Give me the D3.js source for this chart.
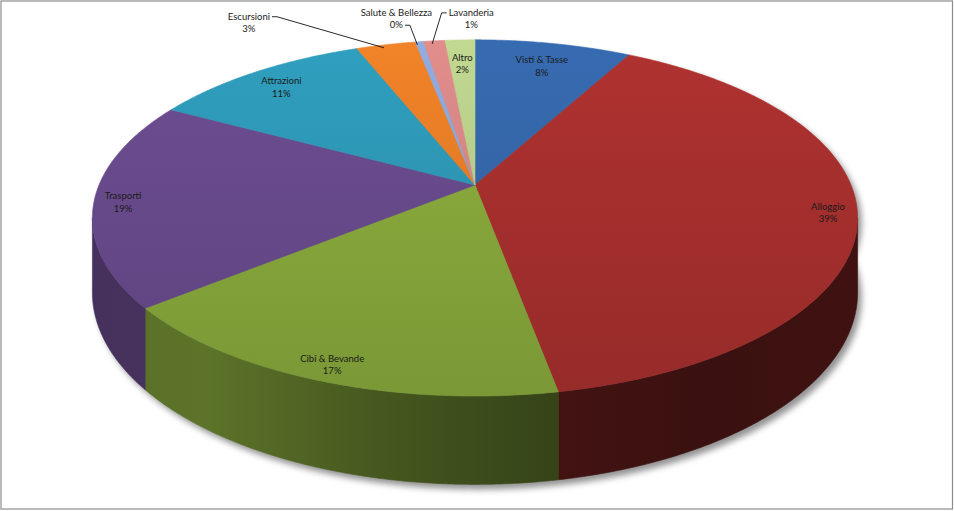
<!DOCTYPE html>
<html>
<head>
<meta charset="utf-8">
<style>
  body { margin: 0; background: #fff; }
  svg text { font-family: Lato, "Liberation Sans", sans-serif; font-size: 9.5px; fill: #1a1a1a; }
</style>
</head>
<body>
<script src="https://d3js.org/d3.v7.min.js"></script>
<svg id="chart" width="954" height="511"></svg>
<script>
// spending shares, clockwise from 12 o'clock
const categories = ["Visti & Tasse", "Alloggio", "Cibi & Bevande", "Trasporti", "Attrazioni",
                    "Escursioni", "Salute & Bellezza", "Lavanderia", "Altro"];
const values = [7.9, 39.2, 17.0, 18.8, 11.1, 3.0, 0.4, 1.1, 1.5];
const colors = ["#3466a9", "#a7302e", "#88a93c", "#684a8c", "#2e97b6",
                "#e67d26", "#8aa5d6", "#d68685", "#b8cf8a"];

// labels that Excel moved outside, with a nudge relative to the rim point
const outside = {
    "Escursioni":        { dx: -137, dy: -25, side: "right", line: 0 },
    "Salute & Bellezza": { dx: -23,  dy: -26, side: "right", line: 1 },
    "Lavanderia":        { dx: 37,   dy: -25, side: "left",  line: 0 }
};

const svg = d3.select("#chart");
const defs = svg.append("defs");

svg.append("rect")
    .attr("x", 1).attr("y", 1).attr("width", 951.5).attr("height", 508)
    .style("fill", "#fff").style("stroke", "#8c8c8c").style("stroke-width", 1.2);

// perspective projection of the pie plane
const cx = 475, cy = 185, A = 376, B = 172, K = 0.185, H = 72;
function proj(t, r, down) {
    const X = r * Math.sin(t), Z = r * Math.cos(t);
    const w = 1 + K * Z;
    return [cx + A * X / w, cy - B * Z / w + (down || 0) / w];
}
function arcPts(a0, a1, down) {
    const n = Math.max(2, Math.ceil((a1 - a0) / 0.008));
    return d3.range(n + 1).map(i => proj(a0 + (a1 - a0) * i / n, 1, down));
}
const line = d3.line();

const pie = d3.pie().sort(null).value(d => d.value).startAngle(0).endAngle(2 * Math.PI);
const arcs = pie(categories.map((c, i) => ({ name: c, value: values[i], color: colors[i] })));
const total = d3.sum(values);

function shade(c, f) {
    const k = d3.rgb(c);
    return d3.rgb(k.r * f, k.g * f, k.b * f).formatHex();
}

// soft drop shadow
defs.append("filter").attr("id", "blur").attr("x", "-10%").attr("y", "-10%")
    .attr("width", "120%").attr("height", "130%")
    .append("feGaussianBlur").attr("stdDeviation", 3);
const full = arcPts(0, 2 * Math.PI, H);
svg.append("path")
    .attr("d", line(full) + "Z" + line(arcPts(0, 2 * Math.PI, 0)) + "Z")
    .attr("transform", "translate(4,5)")
    .style("fill", "#777").style("opacity", 0.8)
    .attr("filter", "url(#blur)");

// gradients
const wallStops = [[0, 0.66], [0.15, 0.68], [0.4, 0.5], [0.6, 0.4], [0.8, 0.35], [1, 0.38]];
arcs.forEach((d, i) => {
    const gt = defs.append("linearGradient").attr("id", "top" + i)
        .attr("gradientUnits", "userSpaceOnUse")
        .attr("x1", 0).attr("y1", 40).attr("x2", 0).attr("y2", 400);
    gt.append("stop").attr("offset", 0).attr("stop-color", shade(d.data.color, 1.05));
    gt.append("stop").attr("offset", 1).attr("stop-color", shade(d.data.color, 0.9));
    const gw = defs.append("linearGradient").attr("id", "wall" + i)
        .attr("gradientUnits", "userSpaceOnUse")
        .attr("x1", 92).attr("y1", 0).attr("x2", 858).attr("y2", 0);
    wallStops.forEach(s => gw.append("stop").attr("offset", s[0])
        .attr("stop-color", shade(d.data.color, s[1])));
});

// outer walls, only the part facing the viewer
const vis0 = Math.acos(-K), vis1 = 2 * Math.PI - vis0;
svg.append("g").selectAll("path.wall")
    .data(arcs.filter(d => d.endAngle > vis0 && d.startAngle < vis1))
    .join("path")
    .attr("class", "wall")
    .attr("d", d => {
        const s = Math.max(d.startAngle, vis0), e = Math.min(d.endAngle, vis1);
        const pts = arcPts(s, e, 0).concat(arcPts(s, e, H).reverse());
        return line(pts) + "Z";
    })
    .style("fill", d => "url(#wall" + d.index + ")")
    .style("stroke", d => "url(#wall" + d.index + ")").style("stroke-width", 0.6);

// top faces
svg.append("g").selectAll("path.top")
    .data(arcs)
    .join("path")
    .attr("class", "top")
    .attr("d", d => line([[cx, cy]].concat(arcPts(d.startAngle, d.endAngle, 0))) + "Z")
    .style("fill", d => "url(#top" + d.index + ")")
    .style("stroke", d => "url(#top" + d.index + ")").style("stroke-width", 0.6);

// labels
const lg = svg.append("g");
arcs.forEach(d => {
    const mid = (d.startAngle + d.endAngle) / 2;
    const pct = Math.round(d.value / total * 100) + "%";
    const o = outside[d.data.name];
    let lx, ly;
    if (o) {
        const rim = proj(mid, 1, 0);
        lx = rim[0] + o.dx; ly = rim[1] + o.dy;
    } else {
        const z = Math.max(0, Math.cos(mid));
        const r = 0.925 - 0.1 * z * z;
        [lx, ly] = proj(mid, r, 0);
        ly -= 1;
    }
    const t = lg.append("text").attr("text-anchor", "middle");
    t.append("tspan").attr("x", lx).attr("y", ly).text(d.data.name);
    t.append("tspan").attr("x", lx).attr("y", ly + 12.5).text(pct);
    if (o) {
        const span = t.selectAll("tspan").nodes()[o.line];
        const w = span.getComputedTextLength();
        const yy = ly + o.line * 12.5 - 3;
        const x0 = o.side === "right" ? lx + w / 2 + 2 : lx - w / 2 - 2;
        const x1 = o.side === "right" ? x0 + 5 : x0 - 5;
        const rim = proj(mid, 1, 0);
        lg.append("path")
            .attr("d", line([[x0, yy], [x1, yy], [rim[0] - 2, rim[1] + 3]]))
            .style("fill", "none").style("stroke", "#111").style("stroke-width", 0.9);
    }
});
</script>
</body>
</html>
